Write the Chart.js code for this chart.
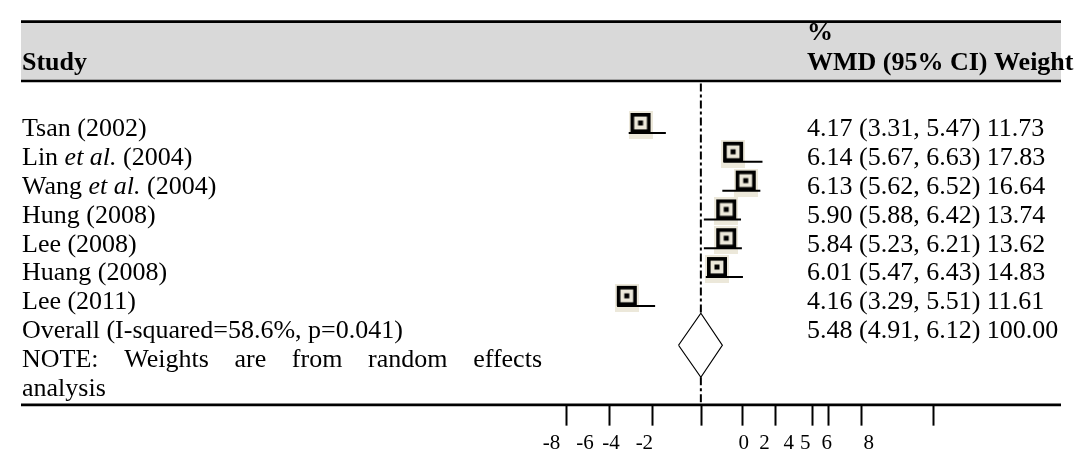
<!DOCTYPE html>
<html>
<head>
<meta charset="utf-8">
<script src="https://cdn.jsdelivr.net/npm/chart.js@4.4.1/dist/chart.umd.min.js"></script>
<style>
    html, body { margin: 0; padding: 0; background: #fff; }
    #wrap { width: 1074px; height: 464px; position: relative; }
</style>
</head>
<body>
<div id="wrap"><canvas id="forest"></canvas></div>
<script>
// study rows, top to bottom
const studies = ['Tsan (2002)', 'Lin et al. (2004)', 'Wang et al. (2004)', 'Hung (2008)',
                 'Lee (2008)', 'Huang (2008)', 'Lee (2011)'];
const wmd     = [4.17, 6.14, 6.13, 5.90, 5.84, 6.01, 4.16];
const ciLow   = [3.31, 5.67, 5.62, 5.88, 5.23, 5.47, 3.29];
const ciHigh  = [5.47, 6.63, 6.52, 6.42, 6.21, 6.43, 5.51];
const weights = [11.73, 17.83, 16.64, 13.74, 13.62, 14.83, 11.61];

const overallLabel = 'Overall (I-squared=58.6%, p=0.041)';
const overall = { wmd: 5.48, low: 4.91, high: 6.12, weight: 100.00 };
const noteWords = ['NOTE:', 'Weights', 'are', 'from', 'random', 'effects'];
const noteTail = 'analysis';

// where the marks sit on the printed axis (axis units)
const boxAt    = [-4.78, -0.47, 0.12, -0.79, -0.79, -1.22, -5.42];
const lineFrom = [-5.33, -0.92, -0.97, -1.83, -1.83, -1.74, -5.87];
const lineTo   = [-3.60, 0.90, 0.80, -0.10, -0.06, -0.01, -4.10];
const diamondAt = [-3.01, -1.97, -0.97];   // left, centre, right

// printed axis: tick marks and their labels
const tickAt     = [-8.25, -6.25, -4.25, -1.97, -0.05, 1.5, 3.2, 3.95, 5.5, 8.85];
const tickLabels = ['-8', '-6', '-4', '-2', '0', '2', '4', '5', '6', '8'];
const labelAt    = [-8.92, -7.37, -6.15, -4.6, 0.03, 0.99, 2.12, 2.89, 3.89, 5.85];

const FONT = '"Liberation Serif", "Times New Roman", serif';
const ROW_OVERALL = studies.length;
const AXIS_ROW = 9.6;

function makeBoxImage() {
    const c = document.createElement('canvas');
    c.width = 24; c.height = 28;
    const g = c.getContext('2d');
    g.fillStyle = '#ece8da';
    g.fillRect(0, 0, 24, 28);
    g.strokeStyle = '#000';
    g.lineWidth = 3.6;
    g.strokeRect(3.8, 3.8, 16.4, 16.4);
    g.fillStyle = '#000';
    g.fillRect(9.5, 9.5, 5, 5);
    return c;
}

function fmt(v) { return v.toFixed(2); }

function drawLabel(ctx, text, x, y) {
    text.split(/(et al\.)/).forEach(part => {
        if (!part) return;
        ctx.font = (part === 'et al.' ? 'italic ' : '') + '26px ' + FONT;
        ctx.fillText(part, x, y);
        x += ctx.measureText(part).width;
    });
}

const tablePlugin = {
    id: 'forestTable',
    beforeDatasetsDraw(chart) {
        const { ctx, chartArea, scales: { y } } = chart;
        const left = chartArea.left + 8, right = chartArea.right;
        const top = y.getPixelForValue(-3.7), bottom = y.getPixelForValue(-1.64);
        ctx.save();
        ctx.fillStyle = '#d9d9d9';
        ctx.fillRect(left, top, right - left, bottom - top);
        ctx.strokeStyle = '#000';
        ctx.lineWidth = 2.6;
        [top, bottom].forEach(py => {
            ctx.beginPath();
            ctx.moveTo(left, py);
            ctx.lineTo(right, py);
            ctx.stroke();
        });
        ctx.restore();
    },
    afterDatasetsDraw(chart) {
        const { ctx, chartArea, scales: { x, y } } = chart;
        const left = chartArea.left + 9;
        const statsX = chartArea.left + 794;
        const base = r => y.getPixelForValue(r) + 8;

        ctx.save();
        ctx.fillStyle = '#000';
        ctx.textAlign = 'left';
        ctx.textBaseline = 'alphabetic';

        // header
        ctx.font = 'bold 26px ' + FONT;
        ctx.fillText('Study', left, y.getPixelForValue(-2.33) + 9);
        ctx.fillText('%', statsX, y.getPixelForValue(-3.35) + 8);
        ctx.fillText('WMD (95% CI) Weight', statsX, y.getPixelForValue(-2.33) + 9);

        // study rows
        studies.forEach((s, i) => {
            drawLabel(ctx, s, left, base(i));
            ctx.font = '26px ' + FONT;
            ctx.fillText(`${fmt(wmd[i])} (${fmt(ciLow[i])}, ${fmt(ciHigh[i])}) ${fmt(weights[i])}`, statsX, base(i));
        });

        // overall row
        ctx.font = '26px ' + FONT;
        ctx.fillText(overallLabel, left, base(ROW_OVERALL));
        ctx.fillText(`${fmt(overall.wmd)} (${fmt(overall.low)}, ${fmt(overall.high)}) ${fmt(overall.weight)}`,
            statsX, base(ROW_OVERALL));

        // justified note
        const noteRight = chartArea.left + 529;
        const widths = noteWords.map(w => ctx.measureText(w).width);
        const gap = (noteRight - left - widths.reduce((a, b) => a + b, 0)) / (noteWords.length - 1);
        let nx = left;
        noteWords.forEach((w, i) => {
            ctx.fillText(w, nx, base(ROW_OVERALL + 1));
            nx += widths[i] + gap;
        });
        ctx.fillText(noteTail, left, base(ROW_OVERALL + 2));

        // printed axis
        const axisY = y.getPixelForValue(AXIS_ROW);
        ctx.strokeStyle = '#000';
        ctx.lineWidth = 2.6;
        ctx.beginPath();
        ctx.moveTo(chartArea.left + 8, axisY);
        ctx.lineTo(chartArea.right, axisY);
        ctx.stroke();

        ctx.lineWidth = 2;
        const tickEnd = y.getPixelForValue(10.32);
        tickAt.forEach(t => {
            const px = Math.round(x.getPixelForValue(t)) + 0.5;
            ctx.beginPath();
            ctx.moveTo(px, axisY);
            ctx.lineTo(px, tickEnd);
            ctx.stroke();
        });

        ctx.font = '21px ' + FONT;
        ctx.textAlign = 'center';
        tickLabels.forEach((t, i) => {
            ctx.fillText(t, x.getPixelForValue(labelAt[i]), y.getPixelForValue(10.9) + 7);
        });
        ctx.restore();
    }
};

const boxImage = makeBoxImage();

const whiskerSets = studies.map((s, i) => ({
    label: s,
    data: [{ x: lineFrom[i], y: i + 0.165 }, { x: lineTo[i], y: i + 0.165 }],
    showLine: true,
    borderColor: '#000',
    borderWidth: 2,
    pointRadius: 0,
    order: 1
}));

const diamondMid = ROW_OVERALL + 0.53, diamondHalf = 1.11;
const refDash = [8, 3, 3, 3];

const chart = new Chart(document.getElementById('forest'), {
    type: 'scatter',
    data: {
        datasets: [
            {
                label: 'studies',
                data: studies.map((s, i) => ({ x: boxAt[i], y: i - 0.115 })),
                pointStyle: boxImage,
                pointRadius: 12,
                order: 2
            },
            ...whiskerSets,
            {
                label: 'overall',
                data: [
                    { x: diamondAt[0], y: diamondMid },
                    { x: diamondAt[1], y: diamondMid - diamondHalf },
                    { x: diamondAt[2], y: diamondMid },
                    { x: diamondAt[1], y: diamondMid + diamondHalf },
                    { x: diamondAt[0], y: diamondMid }
                ],
                showLine: true,
                borderColor: '#000',
                borderWidth: 1.2,
                pointRadius: 0,
                order: 1
            },
            {
                label: 'overall effect (upper)',
                data: [{ x: diamondAt[1], y: -1.55 }, { x: diamondAt[1], y: diamondMid - diamondHalf }],
                showLine: true,
                borderColor: '#000',
                borderWidth: 2,
                borderDash: refDash,
                pointRadius: 0,
                order: 3
            },
            {
                label: 'overall effect (lower)',
                data: [{ x: diamondAt[1], y: diamondMid + diamondHalf }, { x: diamondAt[1], y: AXIS_ROW }],
                showLine: true,
                borderColor: '#000',
                borderWidth: 2,
                borderDash: refDash,
                pointRadius: 0,
                order: 3
            }
        ]
    },
    options: {
        responsive: true,
        maintainAspectRatio: false,
        animation: false,
        layout: { padding: 0 },
        plugins: {
            legend: { display: false },
            tooltip: { enabled: false }
        },
        scales: {
            x: { type: 'linear', min: -34, max: 14.8, display: false },
            y: { type: 'linear', min: -4, max: 11.2, reverse: true, display: false }
        }
    },
    plugins: [tablePlugin]
});
</script>
</body>
</html>
